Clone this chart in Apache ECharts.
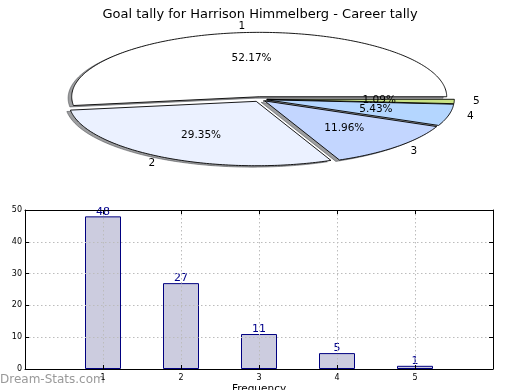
<!DOCTYPE html>
<html>
<head>
<meta charset="utf-8">
<script src="https://cdn.jsdelivr.net/npm/echarts@6/dist/echarts.min.js"></script>
<style>html,body{margin:0;padding:0;background:#fff}#c{width:520px;height:390px}</style>
</head>
<body>
<div id="c"></div>
<script>
// ---- data ----
const titleText = 'Goal tally for Harrison Himmelberg - Career tally';
const categories = ['1', '2', '3', '4', '5'];
const values = [48, 27, 11, 5, 1];
const xTickValues = [1, 2, 3, 4, 5];
const yAxisName = 'Stat Intervals';
const xAxisName = 'Frequency';
const watermark = 'Dream-Stats.com';

// ---- styles / layout ----
const pieColors = ['#ffffff', '#ebf1ff', '#c3d6ff', '#b4d6ff', '#c9e386'];
const CX = 259.7, CY = 99.2, RX = 187.5, RY = 64.4, EXPLODE = 0.038;
const SHX = -3.6, SHY = 1.4;
const FONT = 'DejaVu Sans';

const total = values.reduce((a, b) => a + b, 0);
const bounds = [];
let acc = 0;
values.forEach(v => { bounds.push([acc / total * 360, (acc + v) / total * 360]); acc += v; });

function renderPie(params, api) {
  const i = params.dataIndex;
  const v = api.value(0);
  const t1 = bounds[i][0], t2 = bounds[i][1];
  const mid = (t1 + t2) / 2 * Math.PI / 180;
  const ox = CX + EXPLODE * RX * Math.cos(mid);
  const oy = CY - EXPLODE * RY * Math.sin(mid);
  const pts = [[ox, oy]];
  const n = Math.max(6, Math.ceil((t2 - t1) / 1));
  for (let k = 0; k <= n; k++) {
    const t = (t1 + (t2 - t1) * k / n) * Math.PI / 180;
    pts.push([ox + RX * Math.cos(t), oy - RY * Math.sin(t)]);
  }
  const sh = pts.map(p => [p[0] + SHX, p[1] + SHY]);
  const c = Math.cos(mid), s = Math.sin(mid);
  const lx = ox + 1.1 * RX * c, ly = oy - 1.1 * RY * s;
  const px = ox + 0.6 * RX * c, py = oy - 0.6 * RY * s;
  return {
    type: 'group',
    children: [
      { type: 'polygon', z2: 1, shape: { points: sh }, style: { fill: 'rgba(60,62,66,0.5)', stroke: 'rgba(60,62,66,0.5)', lineWidth: 1 } },
      { type: 'polygon', z2: 10, shape: { points: pts }, style: { fill: pieColors[i], stroke: '#000', lineWidth: 0.9, lineJoin: 'round' } },
      { type: 'text', z2: 20, style: { text: categories[i], x: lx, y: ly, fill: '#000', fontSize: 10.5, fontFamily: FONT, align: c > 0 ? 'left' : 'right', verticalAlign: 'middle' } },
      { type: 'text', z2: 20, style: { text: (v / total * 100).toFixed(2) + '%', x: px, y: py, fill: '#000', fontSize: 10.5, fontFamily: FONT, align: 'center', verticalAlign: 'middle' } }
    ]
  };
}

const gridLine = { show: true, lineStyle: { color: '#bcbcbc', type: [1.5, 2.5], width: 1 } };
const frameLine = { show: true, onZero: false, lineStyle: { color: '#000', width: 1 } };
const inTick = { show: true, inside: true, length: 4, lineStyle: { color: '#000' } };

const chart = echarts.init(document.getElementById('c'), null, { renderer: 'canvas' });
chart.setOption({
  animation: false,
  backgroundColor: '#fff',
  textStyle: { fontFamily: FONT },
  title: {
    text: titleText, left: 'center', top: 3,
    textStyle: { fontSize: 13, fontWeight: 'normal', color: '#000', fontFamily: FONT }
  },
  graphic: [{
    type: 'text', left: 0, top: 374,
    style: { text: watermark, fill: '#999999', fontSize: 12, fontFamily: FONT, fontWeight: 'normal' }
  }],
  grid: { left: 25, right: 27, top: 210, bottom: 21, containLabel: false, outerBoundsMode: 'none' },
  xAxis: [{
    type: 'value', min: 0, max: 6, interval: 1, position: 'bottom', z: 5,
    axisLine: frameLine,
    axisTick: inTick,
    axisLabel: { fontSize: 8, color: '#000', margin: 5, fontFamily: FONT,
      formatter: v => (xTickValues.indexOf(v) >= 0 ? String(v) : '') },
    splitLine: gridLine,
    name: xAxisName, nameLocation: 'middle', nameGap: 15,
    nameTextStyle: { fontSize: 10.5, color: '#000', fontFamily: FONT }
  }, {
    type: 'value', min: 0, max: 6, interval: 1, position: 'top', z: 5,
    axisLine: frameLine,
    axisTick: inTick,
    axisLabel: { show: false }, splitLine: { show: false }
  }],
  yAxis: [{
    type: 'value', min: 0, max: 50, interval: 10, position: 'left', z: 5,
    axisLine: frameLine,
    axisTick: inTick,
    axisLabel: { fontSize: 8, color: '#000', margin: 3, fontFamily: FONT },
    splitLine: gridLine,
    name: yAxisName, nameLocation: 'middle', nameGap: 14, nameRotate: 90,
    nameTextStyle: { fontSize: 10.5, color: '#000', fontFamily: FONT }
  }, {
    type: 'value', min: 0, max: 50, interval: 10, position: 'right', z: 5,
    axisLine: frameLine,
    axisTick: inTick,
    axisLabel: { show: false }, splitLine: { show: false }
  }],
  series: [{
    type: 'custom',
    coordinateSystem: 'none',
    renderItem: renderPie,
    data: values.map(v => [v]),
    silent: true
  }, {
    type: 'bar',
    xAxisIndex: 0, yAxisIndex: 0,
    barWidth: 36,
    data: xTickValues.map((x, i) => [x, values[i]]),
    itemStyle: { color: '#ccccdf', borderColor: '#000080', borderWidth: 1 },
    label: { show: true, position: 'top', distance: -1, color: '#00008b', fontSize: 11, fontFamily: FONT },
    silent: true
  }]
});
</script>
</body>
</html>
